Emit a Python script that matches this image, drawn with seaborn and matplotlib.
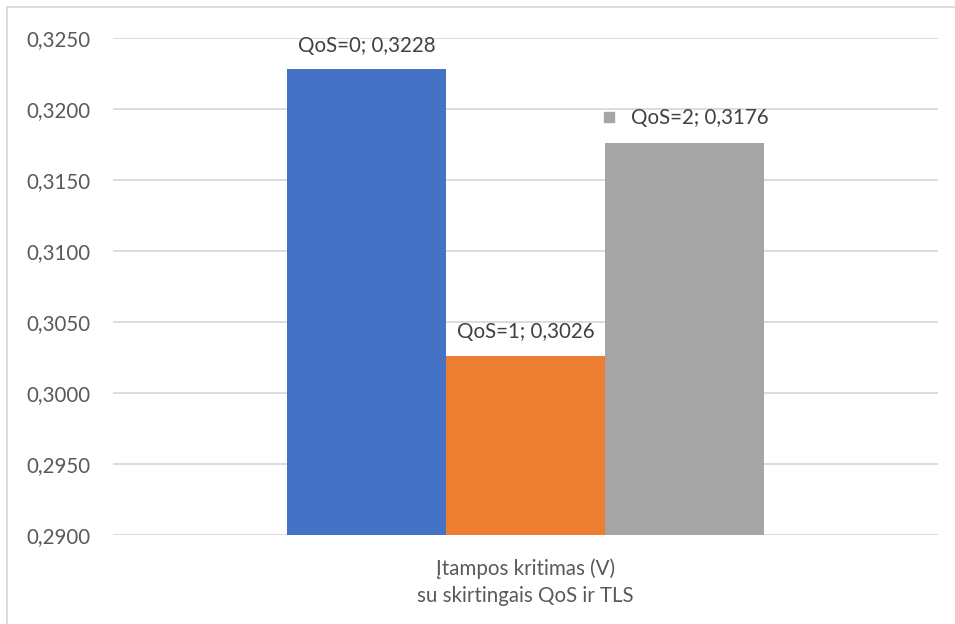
import matplotlib
matplotlib.use("Agg")
import matplotlib.pyplot as plt
import matplotlib.transforms as mtransforms
from matplotlib.patches import Rectangle
import seaborn as sns
import pandas as pd

category = ["Įtampos kritimas (V)\nsu skirtingais QoS ir TLS"]
series = ["QoS=0", "QoS=1", "QoS=2"]
values = [0.3228, 0.3026, 0.3176]
colors = ["#4472C4", "#ED7D31", "#A5A5A5"]
yticks = [0.290, 0.295, 0.300, 0.305, 0.310, 0.315, 0.320, 0.325]

sns.set_theme(style="white")
plt.rcParams["font.family"] = ["Lato", "DejaVu Sans"]
FS = 14.8

df = pd.DataFrame({"cat": category * len(series), "series": series, "value": values})

fig = plt.figure(figsize=(9.55, 6.24), dpi=100)
ax = fig.add_axes([113 / 955, 1 - 535 / 624, (938 - 113) / 955, (535 - 38) / 624])

sns.barplot(data=df, x="cat", y="value", hue="series", palette=colors,
            width=0.578, saturation=1, ax=ax, legend=False, linewidth=0)

ax.set_ylim(0.290, 0.325)
ax.set_xlim(-0.5, 0.5)
ax.set_yticks(yticks)
ax.set_yticklabels([f"{t:.4f}".replace(".", ",") for t in yticks])
ax.yaxis.grid(True, color="#D9D9D9", linewidth=1.3)
ax.set_axisbelow(True)
for s in ax.spines.values():
    s.set_visible(False)
ax.tick_params(axis="y", length=0, pad=16, labelsize=FS, labelcolor="#595959")
ax.tick_params(axis="x", length=0, pad=17, labelsize=FS, labelcolor="#595959")
ax.set_xlabel("")
ax.set_ylabel("")
for lbl in ax.get_xticklabels():
    lbl.set_linespacing(1.4)

# data labels above each bar
bars = sorted(ax.patches, key=lambda p: p.get_x())
for i, (p, name, v) in enumerate(zip(bars, series, values)):
    cx = p.get_x() + p.get_width() / 2
    label = f"{name}; {v:.4f}".replace(".", ",")
    if i == 2:
        ax.annotate(label, (cx, v), xytext=(11, 18), textcoords="offset points",
                    ha="center", va="center", fontsize=FS, color="#404040")
        tr = mtransforms.offset_copy(ax.transData, fig=fig, x=-54, y=19, units="points")
        ax.plot([cx], [v], marker="s", markersize=7, color=colors[2],
                transform=tr, clip_on=False)
    else:
        ax.annotate(label, (cx, v), xytext=(0, 17), textcoords="offset points",
                    ha="center", va="center", fontsize=FS, color="#404040")

# chart frame
fig.patches.append(Rectangle((7 / 955, -0.1), 1.2, 1 - 7 / 624 + 0.1,
                             transform=fig.transFigure, fill=False,
                             edgecolor="#D9D9D9", linewidth=1.3))

fig.savefig("out.png", dpi=100)
